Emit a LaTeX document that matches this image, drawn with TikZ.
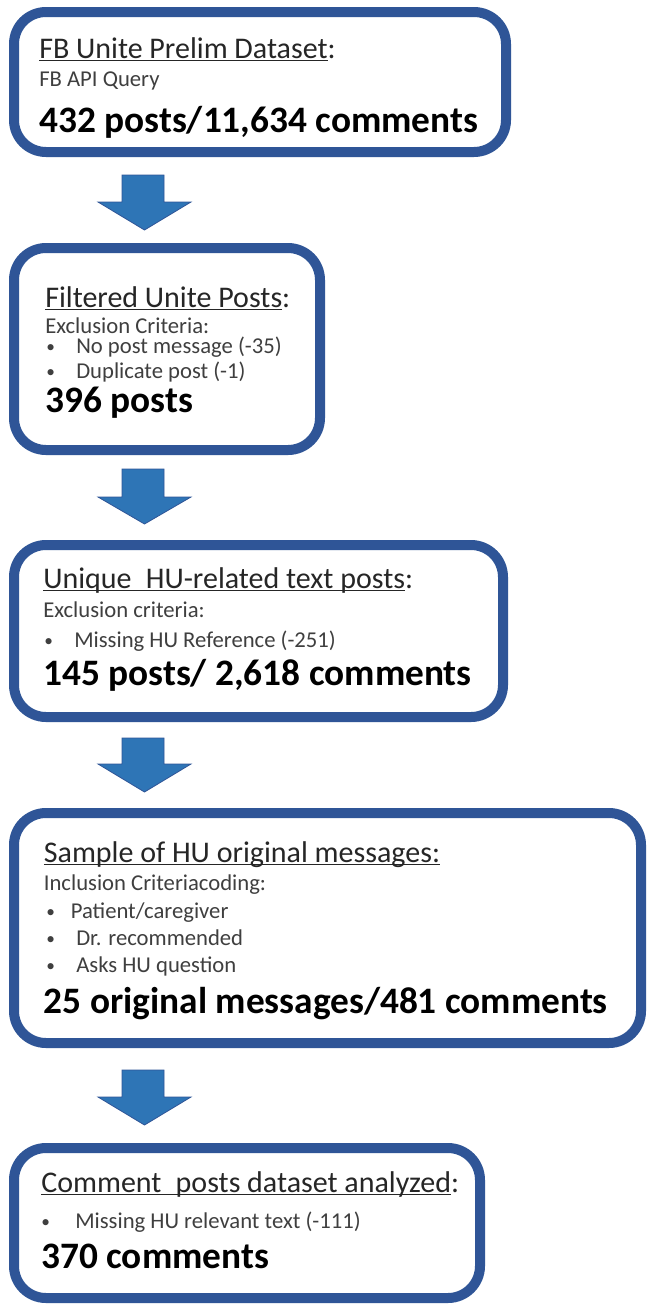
\documentclass[tikz,border=0pt]{standalone}
\usepackage{fontspec}
\setmainfont{Carlito}
\usetikzlibrary{fit}
\definecolor{boxblue}{HTML}{2F5597}
\definecolor{arrowblue}{HTML}{2E75B6}
\definecolor{titlegray}{HTML}{262626}
\definecolor{subgray}{HTML}{3F3F3F}
\newcommand\myul[1]{\setbox0\hbox{#1}\rlap{\rule[-2.6pt]{\wd0}{1.3pt}}\box0}
\newcommand\flowarrowpath[3]{%
  \filldraw[flowarrow] (122,#1) -- (164,#1) -- (164,#2) -- (191,#2) -- (144.5,#3) -- (98,#2) -- (122,#2) -- cycle;}
\tikzset{
  flowbox/.style={draw=boxblue, line width=7.5pt, rounded corners=24pt, fill=white, inner sep=0pt},
  flowarrow/.style={fill=arrowblue, draw=boxblue, line width=0.6pt, line join=miter},
  titletext/.style={anchor=base west, inner sep=0pt, text=titlegray, font=\fontsize{22.5}{27}\selectfont},
  subtext/.style={anchor=base west, inner sep=0pt, text=subgray, font=\fontsize{17}{20}\selectfont},
  bullettext/.style={anchor=base west, inner sep=0pt, text=subgray, font=\fontsize{13}{16}\selectfont},
  bigtext/.style={anchor=base west, inner sep=0pt, text=black, font=\fontsize{28}{34}\selectfont\bfseries},
}
\begin{document}
\begin{tikzpicture}[x=0.75pt, y=-0.75pt]
\useasboundingbox (0,0) rectangle (649,1310);
\fill[white] (0,0) rectangle (649,1310);

% boxes
\node[flowbox, fit={(14,12) (506,152)}] (b1) {};
\node[flowbox, fit={(14,248) (320,450)}] (b2) {};
\node[flowbox, fit={(14,545) (503,717)}] (b3) {};
\node[flowbox, fit={(14,813) (641,1043)}] (b4) {};
\node[flowbox, fit={(14,1148) (480,1298)}] (b5) {};

% block arrows
\flowarrowpath{175}{202}{230}
\flowarrowpath{469}{497}{524}
\flowarrowpath{738}{764}{792}
\flowarrowpath{1070}{1097}{1125}

% box 1
\node[titletext] (t1) at (39,58) {\myul{FB Unite Prelim Dataset}:};
\node[subtext] (s1) at (39,86) {FB API Query};
\node[bigtext] (n1) at (39,132) {432 posts/11,634 comments};

% box 2
\node[titletext] (t2) at (45,307) {\myul{Filtered Unite Posts}:};
\node[subtext] (s2) at (45,333) {Exclusion Criteria:};
\node[bullettext] (d2a) at (46,352) {•};
\node[subtext] (i2a) at (76,353) {No post message (-35)};
\node[bullettext] (d2b) at (46,377) {•};
\node[subtext] (i2b) at (76,378) {Duplicate post (-1)};
\node[bigtext] (n2) at (45,412) {396 posts};

% box 3
\node[titletext] (t3) at (43,588) {\myul{Unique\hspace{0.25em} HU-related text posts}:};
\node[subtext] (s3) at (43,617) {Exclusion criteria:};
\node[bullettext] (d3a) at (44,646) {•};
\node[subtext] (i3a) at (74,647) {Missing HU Reference (-251)};
\node[bigtext] (n3) at (43,685) {145 posts/ 2,618 comments};

% box 4
\node[titletext] (t4) at (43.6,862) {\myul{Sample of HU original messages:}};
\node[subtext] (s4) at (43.6,890) {Inclusion Criteriacoding:};
\node[bullettext] (d4a) at (46,917) {•};
\node[subtext] (i4a) at (70.5,918) {Patient/caregiver};
\node[bullettext] (d4b) at (46,944) {•};
\node[subtext] (i4b) at (76,945) {Dr. recommended};
\node[bullettext] (d4c) at (46,971) {•};
\node[subtext] (i4c) at (76,972) {Asks HU question};
\node[bigtext] (n4) at (43.6,1013) {25 original messages/481 comments};

% box 5
\node[titletext] (t5) at (41,1192) {\myul{Comment\hspace{0.25em} posts dataset analyzed}:};
\node[bullettext] (d5a) at (41,1227) {•};
\node[subtext] (i5a) at (75,1228) {Missing HU relevant text (-111)};
\node[bigtext] (n5) at (41,1268) {370 comments};
\end{tikzpicture}
\end{document}
